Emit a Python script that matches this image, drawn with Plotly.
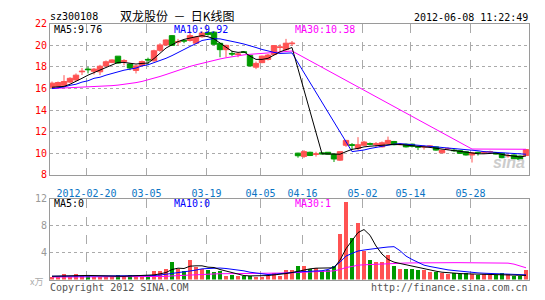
import plotly.graph_objects as go

# ---------------- data ----------------
dates = [
    "2012-02-10", "2012-02-13", "2012-02-14", "2012-02-15", "2012-02-16", "2012-02-17",
    "2012-02-20", "2012-02-21", "2012-02-22", "2012-02-23", "2012-02-24",
    "2012-02-27", "2012-02-28", "2012-02-29", "2012-03-01", "2012-03-02",
    "2012-03-05", "2012-03-06", "2012-03-07", "2012-03-08", "2012-03-09",
    "2012-03-12", "2012-03-13", "2012-03-14", "2012-03-15", "2012-03-16",
    "2012-03-19", "2012-03-20", "2012-03-21", "2012-03-22", "2012-03-23",
    "2012-03-26", "2012-03-27", "2012-03-28", "2012-03-29",
    "2012-04-05", "2012-04-06",
    "2012-04-09", "2012-04-10", "2012-04-11", "2012-04-12", "2012-04-13",
    "2012-04-16", "2012-04-17", "2012-04-18", "2012-04-19", "2012-04-20",
    "2012-04-23", "2012-04-24", "2012-04-25", "2012-04-26", "2012-04-27",
    "2012-05-02", "2012-05-03", "2012-05-04",
    "2012-05-07", "2012-05-08", "2012-05-09", "2012-05-10", "2012-05-11",
    "2012-05-14", "2012-05-15", "2012-05-16", "2012-05-17", "2012-05-18",
    "2012-05-21", "2012-05-22", "2012-05-23", "2012-05-24", "2012-05-25",
    "2012-05-28", "2012-05-29", "2012-05-30", "2012-05-31", "2012-06-01",
    "2012-06-04", "2012-06-05", "2012-06-06", "2012-06-07", "2012-06-08",
]

open_ = [16.12, 16.21, 16.3, 16.6, 16.8, 17.55, 17.8, 17.6, 17.55, 18.1,
         18.42, 19.0, 18.5, 18.27, 17.68, 18.13, 18.7, 18.57, 19.54, 20.04,
         20.9, 20.3, 20.45, 20.45, 20.2, 20.8, 21.2, 21.22, 20.19, 19.6,
         19.25, 19.15, 19.4, 19.07, 17.98, 18.4, 18.7, 19.15, 19.8, 19.6,
         20.15, 10.02, 9.72, 10.1, 9.9, 10.05, 10.1, 9.93, 9.37, 10.75,
         10.8, 10.45, 10.75, 10.9, 10.83, 10.6, 10.9, 11.1, 10.8, 10.85,
         10.85, 10.62, 10.58, 10.6, 10.6, 10.05, 10.42, 10.3, 10.25, 10.15,
         9.85, 10.1, 10.05, 10.12, 10.05, 10.0, 9.75, 9.85, 9.75, 9.8]
high = [16.65, 16.65, 17.24, 17.05, 17.4, 17.9, 18.0, 17.9, 18.2, 18.6,
        18.7, 19.0, 18.72, 18.3, 18.2, 18.6, 18.86, 19.6, 20.2, 20.55,
        20.95, 20.6, 20.5, 21.3, 20.85, 21.3, 21.3, 21.3, 20.2, 20.05,
        19.5, 19.3, 19.45, 19.1, 18.5, 19.05, 19.2, 20.0, 20.1, 20.6,
        20.4, 10.05, 10.3, 10.15, 10.15, 10.1, 10.1, 9.95, 10.2, 11.25,
        10.95, 11.5, 11.15, 11.0, 11.05, 11.1, 11.55, 11.15, 10.95, 10.9,
        10.9, 10.7, 10.75, 10.75, 10.62, 10.35, 10.55, 10.45, 10.3, 10.2,
        10.1, 10.15, 10.2, 10.25, 10.1, 10.05, 9.95, 9.9, 9.8, 10.4]
low = [16.05, 16.1, 16.2, 16.5, 16.7, 17.25, 17.4, 17.3, 17.25, 18.0,
       18.35, 18.3, 18.15, 17.7, 17.4, 18.05, 18.2, 18.5, 19.4, 19.95,
       19.95, 20.0, 20.2, 20.35, 20.15, 20.7, 20.9, 20.0, 18.9, 18.9,
       19.0, 18.9, 19.3, 18.05, 17.8, 18.35, 18.6, 19.1, 19.4, 19.5,
       19.95, 9.6, 9.57, 9.75, 9.7, 9.9, 9.9, 9.2, 9.3, 10.6,
       10.3, 10.3, 10.7, 10.75, 10.6, 10.55, 10.85, 10.75, 10.75, 10.55,
       10.55, 10.3, 10.35, 10.5, 10.25, 10.0, 10.3, 10.15, 9.95, 9.8,
       9.15, 9.8, 9.95, 10.0, 9.9, 9.55, 9.6, 9.45, 9.4, 9.75]
close = [16.5, 16.56, 16.65, 16.95, 17.24, 17.6, 17.75, 17.8, 18.07, 18.48,
         18.65, 18.36, 18.6, 17.9, 18.1, 18.5, 18.65, 19.5, 20.04, 20.5,
         20.0, 20.35, 20.4, 20.9, 20.75, 21.15, 21.0, 20.1, 19.6, 20.0,
         19.2, 19.2, 19.35, 18.1, 18.33, 19.0, 19.1, 19.98, 19.85, 20.2,
         20.2, 9.78, 10.16, 9.8, 9.95, 9.95, 9.92, 9.48, 10.16, 11.2,
         10.75, 10.8, 11.05, 10.85, 10.88, 10.98, 11.2, 10.8, 10.85, 10.6,
         10.65, 10.58, 10.62, 10.68, 10.3, 10.3, 10.45, 10.25, 10.0, 9.85,
         10.05, 10.05, 10.12, 10.15, 9.95, 9.6, 9.8, 9.5, 9.45, 10.35]

N = None
ma5 = [16.12, 16.15, 16.2, 16.4, 16.65, 16.95, 17.24, 17.48, 17.68, 17.98,
       18.19, 18.42, 18.42, 18.33, 18.27, 18.33, 18.36, 18.78, 19.3, 19.75,
       20.05, 20.35, 20.55, 20.7, 20.8, 20.9, 20.8, 20.6, 20.2, 19.8,
       19.45, 19.35, 19.4, 19.0, 18.7, 18.7, 18.8, 19.1, 19.4, 19.6,
       19.8, N, N, N, N, 9.96, 9.95, 9.9, 9.92, 10.16,
       10.37, 10.46, 10.6, 10.66, 10.72, 10.75, 10.84, 10.84, 10.82, 10.75,
       10.7, 10.66, 10.6, 10.55, 10.46, 10.37, 10.31, 10.25, 10.19, 10.1,
       10.02, 9.96, 9.96, 10.02, 10.02, 9.9, 9.84, 9.72, 9.66, 9.76]
ma10 = [16.0, 16.08, 16.15, 16.3, 16.4, 16.6, 16.72, 16.95, 17.05, 17.24,
        17.4, 17.6, 17.7, 17.8, 17.9, 18.1, 18.2, 18.4, 18.57, 18.8,
        19.05, 19.35, 19.63, 19.9, 20.16, 20.45, 20.55, 20.62, 20.6, 20.5,
        20.38, 20.25, 20.12, 19.98, 19.8, 19.62, 19.47, 19.35, 19.25, 19.25,
        19.3, N, N, N, N, N, N, N, N, N,
        10.16, 10.22, 10.31, 10.45, 10.55, 10.65, 10.8, 10.85, 10.9, 10.88,
        10.8, 10.75, 10.7, 10.67, 10.65, 10.58, 10.52, 10.48, 10.44, 10.38,
        10.3, 10.24, 10.16, 10.12, 10.08, 10.03, 9.98, 9.94, 9.9, 9.92]
ma30 = [16.0, 16.02, 16.04, 16.06, 16.08, 16.1, 16.12, 16.15, 16.18, 16.22,
        16.27, 16.32, 16.38, 16.45, 16.55, 16.66, 16.8, 16.95, 17.12, 17.3,
        17.5, 17.7, 17.88, 18.05, 18.2, 18.35, 18.5, 18.62, 18.74, 18.85,
        18.95, 19.05, 19.12, 19.17, 19.2, 19.24, 19.28, 19.33, 19.38, 19.43,
        19.48, N, N, N, N, N, N, N, N, N,
        N, N, N, N, N, N, N, N, N, N,
        N, N, N, N, N, N, N, N, N, N,
        10.4, 10.4, 10.4, 10.4, 10.39, 10.38, 10.37, 10.36, 10.36, 10.38]

volume = [0.4, 0.4, 0.8, 0.45, 0.8, 0.5, 0.6, 0.4, 0.4, 0.4,
          0.4, 0.7, 0.5, 0.7, 0.45, 0.45, 0.55, 1.35, 1.35, 1.55,
          2.7, 1.55, 1.25, 2.9, 1.9, 1.65, 1.4, 1.2, 1.3, 0.55,
          0.65, 0.5, 0.6, 0.5, 0.45, 0.45, 0.5, 0.95, 0.48, 1.43,
          1.43, 2.05, 2.05, 1.52, 1.76, 1.33, 1.43, 2.05, 6.76, 11.5,
          6.2, 8.5, 4.2, 2.86, 2.62, 2.62, 3.7, 2.0, 1.57, 1.57,
          1.52, 1.43, 1.48, 1.1, 1.19, 1.05, 0.81, 1.05, 0.81, 0.95,
          0.81, 0.71, 0.81, 0.62, 0.71, 0.95, 0.81, 0.48, 0.48, 1.43]
vol_ma5 = [0.5, 0.5, 0.55, 0.6, 0.6, 0.6, 0.62, 0.6, 0.55, 0.45,
           0.45, 0.5, 0.5, 0.55, 0.55, 0.55, 0.6, 0.7, 0.85, 1.05,
           1.5, 1.7, 1.65, 2.0, 2.05, 2.05, 1.85, 1.8, 1.5, 1.25,
           1.05, 0.85, 0.6, 0.55, 0.55, 0.5, 0.6, 0.7, 0.75, 0.9,
           1.05, 1.27, 1.45, 1.6, 1.7, 1.72, 1.65, 1.75, 2.9, 4.6,
           5.8, 7.0, 7.45, 6.6, 5.0, 3.8, 3.0, 2.6, 2.4, 2.2,
           2.05, 1.8, 1.57, 1.4, 1.25, 1.1, 1.0, 0.95, 0.9, 0.86,
           0.84, 0.82, 0.8, 0.77, 0.74, 0.71, 0.68, 0.65, 0.63, 0.62]
vol_ma10 = [0.5, 0.5, 0.5, 0.52, 0.54, 0.55, 0.56, 0.57, 0.57, 0.56,
            0.55, 0.55, 0.55, 0.55, 0.52, 0.5, 0.52, 0.6, 0.68, 0.78,
            0.95, 1.05, 1.1, 1.28, 1.42, 1.6, 1.65, 1.7, 1.72, 1.65,
            1.55, 1.45, 1.3, 1.1, 0.95, 0.8, 0.75, 0.8, 0.85, 0.95,
            1.05, 1.15, 1.2, 1.25, 1.28, 1.32, 1.5, 1.9, 2.6, 3.5,
            3.9, 4.25, 4.4, 4.55, 4.65, 4.75, 4.85, 4.9, 4.3, 3.5,
            3.0, 2.6, 2.15, 1.95, 1.75, 1.6, 1.45, 1.35, 1.25, 1.12,
            1.05, 1.0, 0.95, 0.93, 0.88, 0.85, 0.81, 0.77, 0.74, 0.71]
vol_ma30 = [0.38, 0.38, 0.38, 0.38, 0.39, 0.39, 0.39, 0.39, 0.39, 0.39,
            0.39, 0.4, 0.4, 0.4, 0.4, 0.4, 0.4, 0.41, 0.43, 0.47,
            0.55, 0.6, 0.64, 0.72, 0.76, 0.8, 0.83, 0.85, 0.88, 0.88,
            0.88, 0.89, 0.89, 0.89, 0.88, 0.88, 0.9, 0.93, 0.95, 0.98,
            1.02, 1.08, 1.12, 1.16, 1.2, 1.22, 1.25, 1.3, 1.5, 1.8,
            1.95, 2.15, 2.2, 2.25, 2.3, 2.35, 2.4, 2.42, 2.44, 2.47,
            2.48, 2.5, 2.5, 2.51, 2.52, 2.52, 2.52, 2.52, 2.52, 2.52,
            2.52, 2.52, 2.52, 2.52, 2.5, 2.48, 2.45, 2.3, 2.05, 1.76]

tick_dates = ["2012-02-20", "2012-03-05", "2012-03-19", "2012-04-05",
              "2012-04-16", "2012-05-02", "2012-05-14", "2012-05-28"]
tick_labels = ["2012-02-20", "03-05", "03-19", "04-05", "04-16", "05-02", "05-14", "05-28"]
price_ticks = [8, 10, 12, 14, 16, 18, 20, 22]
vol_ticks = [4, 8, 12]

stock_code = "sz300108"
title_text = "双龙股份\u00a0\u00a0－\u00a0\u00a0日K线图"
timestamp = "2012-06-08 11:22:49"
ma_labels_price = ["MA5:9.76", "MA10:9.92", "MA30:10.38"]
ma_labels_vol = ["MA5:0", "MA10:0", "MA30:1"]

# ---------------- styling ----------------
W, H = 545, 300
RED = "#ff5252"
GREEN = "#009a00"
MONO = "DejaVu Sans Mono"
GRID = "#aaaaaa"
FRAME = "#9a9a9a"

x = list(range(len(dates)))
tickpos = [dates.index(d) - 0.25 for d in tick_dates]
vol_colors = [RED if c >= o else GREEN for o, c in zip(open_, close)]

def px(v):
    return v / W

def py(v):
    return 1 - v / H

fig = go.Figure()

fig.add_trace(go.Candlestick(
    x=x, open=open_, high=high, low=low, close=close,
    increasing=dict(line=dict(color=RED, width=1), fillcolor=RED),
    decreasing=dict(line=dict(color=GREEN, width=1), fillcolor=GREEN),
    whiskerwidth=0, hoverinfo="skip", xaxis="x", yaxis="y",
))
for arr, col in [(ma30, "#ff00ff"), (ma10, "#0000ff"), (ma5, "#000000")]:
    fig.add_trace(go.Scatter(x=x, y=arr, mode="lines", connectgaps=True,
                             line=dict(color=col, width=1), hoverinfo="skip",
                             xaxis="x", yaxis="y"))

fig.add_trace(go.Bar(x=x, y=volume, marker=dict(color=vol_colors, line=dict(width=0)),
                     width=0.82, hoverinfo="skip", xaxis="x2", yaxis="y2"))
for arr, col in [(vol_ma30, "#ff00ff"), (vol_ma10, "#0000ff"), (vol_ma5, "#000000")]:
    fig.add_trace(go.Scatter(x=x, y=arr, mode="lines",
                             line=dict(color=col, width=1), hoverinfo="skip",
                             xaxis="x2", yaxis="y2"))

xr = [-0.333, len(dates) - 0.5]
common_x = dict(range=xr, showgrid=True, gridcolor=GRID, griddash="dash", gridwidth=1,
                tickvals=tickpos, zeroline=False, showline=True, linecolor=FRAME,
                mirror=True, ticks="", fixedrange=True, domain=[px(50), px(529)])

fig.update_layout(
    width=W, height=H,
    margin=dict(l=0, r=0, t=0, b=0),
    paper_bgcolor="white", plot_bgcolor="white",
    showlegend=False,
    boxgap=0.1, boxgroupgap=0,
    bargap=0,
    xaxis=dict(**common_x, anchor="y", ticktext=tick_labels, showticklabels=True,
               tickfont=dict(family=MONO, size=10, color="#0a74c4"),
               ticklabelstandoff=9, rangeslider=dict(visible=False)),
    xaxis2=dict(**common_x, anchor="y2", showticklabels=False, ticktext=tick_labels),
    yaxis=dict(domain=[py(176), py(18.5)], range=[8, 22], tickvals=price_ticks,
               showgrid=True, gridcolor=GRID, griddash="dot", zeroline=False,
               showline=True, linecolor=FRAME, mirror=True, ticks="",
               tickfont=dict(family=MONO, size=10, color="#ff0000"), anchor="x"),
    yaxis2=dict(domain=[py(285), py(201)], range=[0, 12], tickvals=vol_ticks,
                showgrid=True, gridcolor=GRID, griddash="dot", zeroline=False,
                showline=True, linecolor=FRAME, mirror=True, ticks="",
                tickfont=dict(family=MONO, size=10, color="#999999"), anchor="x2"),
)

ann = []
def text(t, x0, y0, col, size=10, anchor="left", family=MONO, **kw):
    ann.append(dict(text=t, x=px(x0), y=py(y0), xref="paper", yref="paper",
                    xanchor=anchor, yanchor="middle", showarrow=False,
                    font=dict(family=family, size=size, color=col), **kw))

text(stock_code, 48, 11, "#000000", 10)
text(title_text, 177, 10, "#000000", 12, anchor="center", family="Noto Sans CJK SC")
text(timestamp, 530, 12, "#000000", 10, anchor="right")
for lbl, xx, col in zip(ma_labels_price, [52, 172, 293], ["#000000", "#0000ff", "#ff00ff"]):
    text(lbl, xx, 24, col, 10)
for lbl, xx, col in zip(ma_labels_vol, [52, 172, 293], ["#000000", "#0000ff", "#ff00ff"]):
    text(lbl, xx, 206, col, 10)
text("x万", 45, 287, "#aaaaaa", 9, anchor="right", family="Noto Sans CJK SC")
text("Copyright 2012 SINA.COM", 48, 293, "#555555", 10)
text("http://finance.sina.com.cn", 530, 293, "#555555", 10, anchor="right")
text("<b><i>sina</i></b>", 527, 163, "#cccccc", 16, anchor="right", family="Arial")

fig.update_layout(annotations=ann)
fig.write_html("out.html")
